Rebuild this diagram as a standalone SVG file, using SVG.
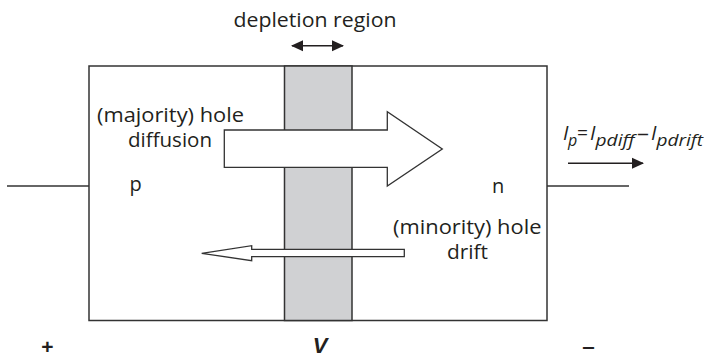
<svg xmlns="http://www.w3.org/2000/svg" width="704" height="358" viewBox="0 0 704 358">
<style>
.t{font-family:"Open Sans","Liberation Sans",Arial,sans-serif;font-size:20px;fill:#231f20}
.it{font-style:italic}
.sub{font-size:16px}
.sym{font-family:"Liberation Sans",Arial,sans-serif;font-weight:bold;fill:#231f20}
.ln{stroke:#333;stroke-width:1.5;fill:none}
.arr{fill:#fff;stroke:#333;stroke-width:1.3;stroke-linejoin:miter}
</style>
<defs>
<marker id="ah" viewBox="0 0 12 12" refX="11" refY="6" markerWidth="12" markerHeight="12" markerUnits="userSpaceOnUse" orient="auto-start-reverse">
<path d="M0,0.5 L12,6 L0,11.5 Z" fill="#231f20"/>
</marker>
</defs>
<rect width="704" height="358" fill="#fff"/>
<g id="device">
<rect x="89" y="66" width="458" height="254.5" class="ln"/>
</g>
<g id="depletion">
<rect x="284.5" y="66" width="67.5" height="254.5" fill="#d0d1d3" stroke="#333" stroke-width="1.5"/>
</g>
<g id="connectors">
<line x1="7" y1="186" x2="89" y2="186" class="ln"/>
<line x1="547" y1="186" x2="629" y2="186" class="ln"/>
<line x1="292" y1="45.7" x2="343" y2="45.7" stroke="#231f20" stroke-width="1.5" marker-start="url(#ah)" marker-end="url(#ah)"/>
<line x1="568" y1="163.3" x2="643" y2="163.3" stroke="#231f20" stroke-width="1.5" marker-end="url(#ah)"/>
</g>
<g id="diffusion-arrow">
<polygon class="arr" points="224.3,130 387.3,130 387.3,111.7 442.3,149 387.3,186 387.3,167.3 224.3,167.3"/>
</g>
<g id="drift-arrow">
<polygon class="arr" points="404.3,249.3 251.7,249.3 251.7,245.7 201.7,253.3 251.7,260.7 251.7,256.7 404.3,256.7"/>
</g>
<g id="labels">
<text class="t" x="233.5" y="26.5" textLength="163" lengthAdjust="spacingAndGlyphs">depletion region</text>
<text class="t" x="97" y="121.5" textLength="147" lengthAdjust="spacingAndGlyphs">(majority) hole</text>
<text class="t" x="128" y="146.7" textLength="84" lengthAdjust="spacingAndGlyphs">diffusion</text>
<text class="t" x="129.5" y="191">p</text>
<text class="t" x="492" y="192.5">n</text>
<text class="t" x="393" y="234" textLength="148.5" lengthAdjust="spacingAndGlyphs">(minority) hole</text>
<text class="t" x="447" y="259.3" textLength="41" lengthAdjust="spacingAndGlyphs">drift</text>
<text class="t it" x="563" y="139.5">I</text>
<text class="t it sub" x="568" y="145.5">p</text>
<text class="t" x="577" y="139.5" textLength="11" lengthAdjust="spacingAndGlyphs">=</text>
<text class="t it" x="590" y="139.5">I</text>
<text class="t it sub" x="595.5" y="145.5" textLength="39" lengthAdjust="spacingAndGlyphs">pdiff</text>
<text class="t" x="637" y="139.5" textLength="12" lengthAdjust="spacingAndGlyphs">–</text>
<text class="t it" x="651" y="139.5">I</text>
<text class="t it sub" x="656.5" y="145.5" textLength="46.5" lengthAdjust="spacingAndGlyphs">pdrift</text>
<text class="sym" x="47.5" y="353.5" text-anchor="middle" font-size="21">+</text>
<text class="sym" x="320" y="352.7" text-anchor="middle" font-size="22" font-style="italic">V</text>
<text class="sym" x="588.5" y="353" text-anchor="middle" font-size="21" textLength="12.5" lengthAdjust="spacingAndGlyphs">–</text>
</g>
</svg>
